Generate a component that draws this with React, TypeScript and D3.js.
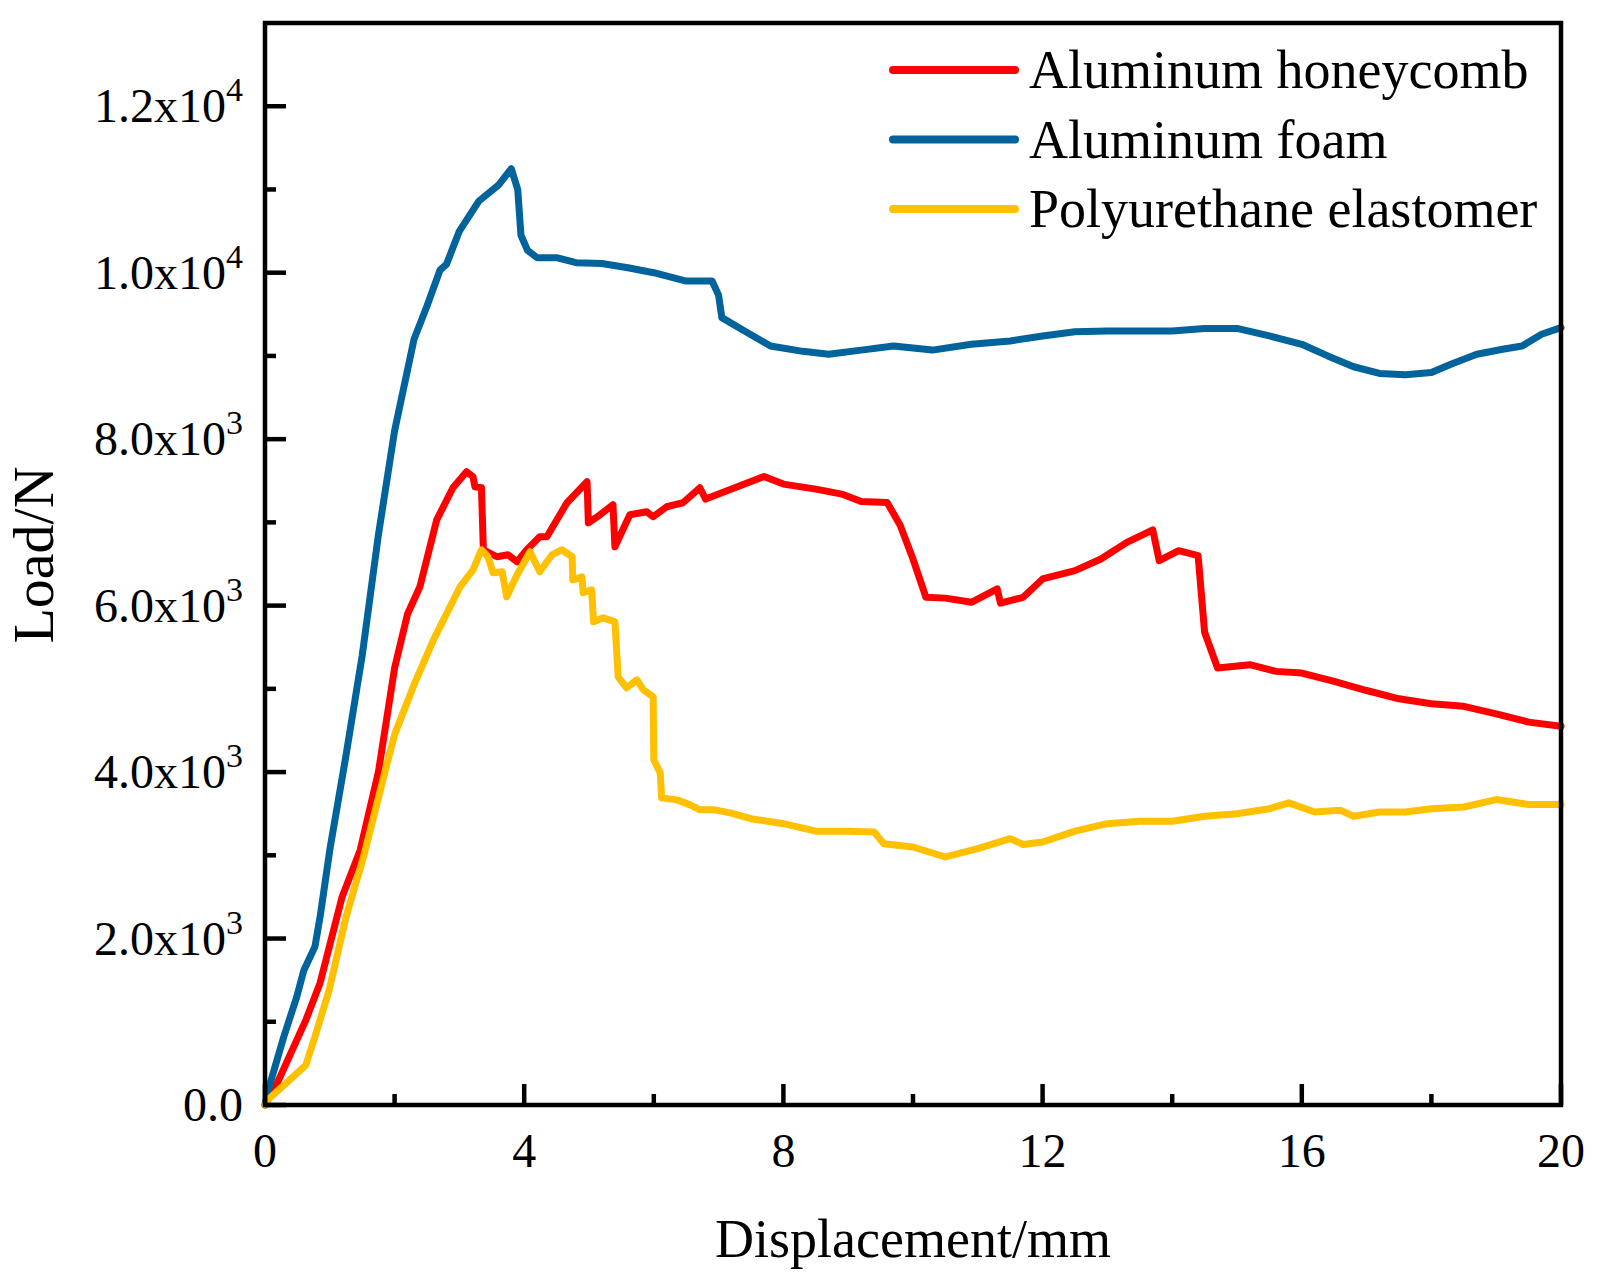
import React from 'react';
import * as d3 from 'd3';

// displacement (mm), load (N)
const honeycomb: [number, number][] = [
  [0, 0], [0.19, 265], [0.63, 1020], [0.85, 1466], [1.19, 2500], [1.47, 3065], [1.75, 4000],
  [2.0, 5250], [2.2, 5900], [2.39, 6226], [2.65, 7031], [2.9, 7416], [3.11, 7608], [3.21, 7548],
  [3.24, 7428], [3.34, 7416], [3.37, 6671], [3.58, 6587], [3.75, 6611], [3.89, 6527], [4.04, 6671],
  [4.24, 6827], [4.35, 6827], [4.66, 7236], [4.97, 7488], [4.99, 6995], [5.17, 7091], [5.37, 7212],
  [5.4, 6707], [5.63, 7091], [5.89, 7127], [5.99, 7067], [6.2, 7188], [6.45, 7236], [6.71, 7416],
  [6.8, 7280], [7.2, 7400], [7.7, 7550], [8.0, 7460], [8.5, 7400], [8.9, 7340], [9.2, 7250],
  [9.6, 7240], [9.8, 6970], [10.0, 6560], [10.2, 6100], [10.5, 6090], [10.9, 6040], [11.3, 6200],
  [11.35, 6030], [11.7, 6100], [12.0, 6320], [12.5, 6420], [12.9, 6560], [13.3, 6760], [13.7, 6910],
  [13.8, 6540], [14.1, 6660], [14.4, 6600], [14.5, 5680], [14.7, 5250], [15.2, 5290], [15.6, 5210],
  [16.0, 5190], [16.5, 5090], [17.0, 4980], [17.5, 4880], [18.0, 4820], [18.5, 4790], [19.0, 4700],
  [19.5, 4600], [20.0, 4550]
];

const foam: [number, number][] = [
  [0, 0], [0.05, 180], [0.29, 820], [0.49, 1300], [0.6, 1620], [0.77, 1900], [0.85, 2260],
  [1.0, 3065], [1.25, 4200], [1.5, 5400], [1.75, 6850], [2.0, 8100], [2.3, 9200], [2.5, 9600],
  [2.7, 10030], [2.8, 10100], [3.0, 10500], [3.3, 10860], [3.6, 11050], [3.8, 11250], [3.9, 11000],
  [3.95, 10450], [4.05, 10270], [4.2, 10180], [4.5, 10180], [4.8, 10120], [5.2, 10110], [5.6, 10060],
  [6.0, 10000], [6.5, 9900], [6.9, 9900], [7.0, 9730], [7.05, 9460], [7.4, 9300], [7.8, 9120],
  [8.3, 9055], [8.7, 9020], [9.2, 9070], [9.7, 9120], [10.3, 9070], [10.9, 9140], [11.5, 9180],
  [12.0, 9240], [12.5, 9290], [13.0, 9300], [13.5, 9300], [14.0, 9300], [14.5, 9330], [15.0, 9330],
  [15.5, 9240], [16.0, 9140], [16.4, 9000], [16.8, 8870], [17.2, 8790], [17.6, 8775], [18.0, 8800],
  [18.3, 8900], [18.7, 9020], [19.1, 9080], [19.4, 9120], [19.7, 9260], [20.0, 9340]
];

const polyurethane: [number, number][] = [
  [0, 0], [0.04, 60], [0.63, 480], [0.77, 820], [0.99, 1380], [1.25, 2260], [1.52, 2980],
  [1.85, 4000], [2.0, 4450], [2.3, 5050], [2.6, 5589], [3.01, 6226], [3.21, 6430], [3.34, 6671],
  [3.44, 6587], [3.52, 6394], [3.66, 6406], [3.73, 6106], [3.89, 6370], [4.09, 6647], [4.24, 6406],
  [4.43, 6611], [4.58, 6671], [4.74, 6587], [4.75, 6310], [4.89, 6346], [4.91, 6154], [5.04, 6190],
  [5.07, 5805], [5.22, 5853], [5.4, 5805], [5.45, 5144], [5.58, 5012], [5.74, 5108], [5.84, 4988],
  [5.99, 4904], [6.0, 4147], [6.1, 3990], [6.12, 3690], [6.36, 3666], [6.56, 3606], [6.71, 3546],
  [6.94, 3546], [7.18, 3510], [7.5, 3440], [8.0, 3380], [8.5, 3290], [9.0, 3290], [9.4, 3280],
  [9.55, 3140], [10.0, 3100], [10.5, 2980], [11.0, 3080], [11.5, 3200], [11.7, 3130], [12.0, 3160],
  [12.5, 3290], [13.0, 3380], [13.5, 3410], [14.0, 3410], [14.5, 3470], [15.0, 3500], [15.5, 3560],
  [15.8, 3630], [16.2, 3520], [16.6, 3540], [16.8, 3470], [17.2, 3520], [17.6, 3520], [18.0, 3560],
  [18.5, 3580], [19.0, 3670], [19.5, 3610], [20.0, 3610]
];

const seriesNames = ['Aluminum honeycomb', 'Aluminum foam', 'Polyurethane elastomer'];
const seriesColors = ['#FF0000', '#00639B', '#FFC000'];

const xMajor = [0, 4, 8, 12, 16, 20];
const xMinor = [2, 6, 10, 14, 18];
const yMajor = [0, 2000, 4000, 6000, 8000, 10000, 12000];
const yMinor = [1000, 3000, 5000, 7000, 9000, 11000];
// mantissa, exponent
const yLabels: [string, string | null][] = [
  ['0.0', null], ['2.0x10', '3'], ['4.0x10', '3'], ['6.0x10', '3'],
  ['8.0x10', '3'], ['1.0x10', '4'], ['1.2x10', '4']
];

const W = 1600;
const H = 1285;
const margin = { top: 23, right: 39, bottom: 180, left: 265 };
const FONT = '"Liberation Serif", "Times New Roman", serif';

const App: React.FC = () => {
  const innerW = W - margin.left - margin.right;
  const innerH = H - margin.top - margin.bottom;

  const x = d3.scaleLinear().domain([0, 20]).range([0, innerW]);
  const y = d3.scaleLinear().domain([0, 13000]).range([innerH, 0]);

  const line = d3.line<[number, number]>()
    .x(d => x(d[0]))
    .y(d => y(d[1]));

  const data = [honeycomb, foam, polyurethane];

  return (
    <svg width={W} height={H} style={{ position: 'absolute', left: 0, top: 0, background: '#fff' }}
      fontFamily={FONT}>
      <g transform={`translate(${margin.left},${margin.top})`}>
        {/* curves */}
        {data.map((d, i) => (
          <path key={i} d={line(d) || ''} fill="none" stroke={seriesColors[i]}
            strokeWidth={7} strokeLinejoin="round" strokeLinecap="round" />
        ))}

        {/* frame */}
        <rect x={0} y={0} width={innerW} height={innerH} fill="none" stroke="#000" strokeWidth={4.5} />

        {/* x ticks, pointing inward */}
        {xMajor.map(t => (
          <line key={'xM' + t} x1={x(t)} x2={x(t)} y1={innerH} y2={innerH - 21} stroke="#000" strokeWidth={4.5} />
        ))}
        {xMinor.map(t => (
          <line key={'xm' + t} x1={x(t)} x2={x(t)} y1={innerH} y2={innerH - 11} stroke="#000" strokeWidth={4.5} />
        ))}
        {xMajor.map(t => (
          <text key={'xl' + t} x={x(t)} y={innerH + 62} fontSize={48} textAnchor="middle">{t}</text>
        ))}

        {/* y ticks */}
        {yMajor.map(t => (
          <line key={'yM' + t} x1={0} x2={21} y1={y(t)} y2={y(t)} stroke="#000" strokeWidth={4.5} />
        ))}
        {yMinor.map(t => (
          <line key={'ym' + t} x1={0} x2={11} y1={y(t)} y2={y(t)} stroke="#000" strokeWidth={4.5} />
        ))}
        {yMajor.map((t, i) => {
          const [m, e] = yLabels[i];
          return (
            <text key={'yl' + t} x={-22} y={y(t) + 16} fontSize={48} textAnchor="end">
              {m}
              {e && <tspan fontSize={34} dy={-21}>{e}</tspan>}
            </text>
          );
        })}

        {/* axis titles */}
        <text x={innerW / 2} y={innerH + 152} fontSize={54} textAnchor="middle">Displacement/mm</text>
        <text transform={`translate(${53 - margin.left},${555 - margin.top}) rotate(-90)`}
          fontSize={58} textAnchor="middle">Load/N</text>

        {/* legend */}
        {seriesNames.map((name, i) => {
          const ly = 47 + i * 69.5 - margin.top + 23;
          return (
            <g key={name}>
              <line x1={893 - margin.left} x2={1015 - margin.left} y1={ly} y2={ly}
                stroke={seriesColors[i]} strokeWidth={8} strokeLinecap="round" />
              <text x={1029 - margin.left} y={ly + 18} fontSize={54}>{name}</text>
            </g>
          );
        })}
      </g>
    </svg>
  );
};

export default App;
